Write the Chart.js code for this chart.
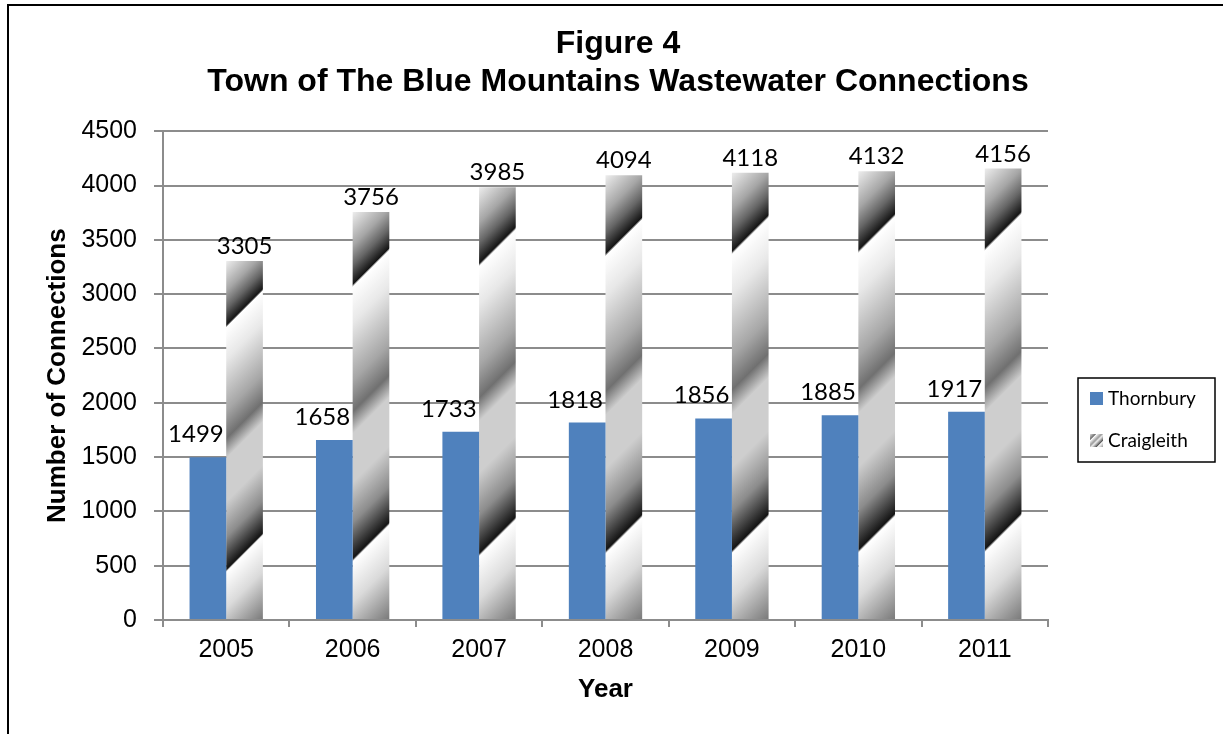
<!DOCTYPE html>
<html>
<head>
<meta charset="utf-8">
<title>Wastewater Connections</title>
<script src="https://cdn.jsdelivr.net/npm/chart.js@4.4.0/dist/chart.umd.min.js"></script>
<style>
  html, body { margin: 0; padding: 0; background: #fff; }
</style>
</head>
<body>
<canvas id="chart" width="1223" height="734"></canvas>
<script>
// data
const years = ['2005', '2006', '2007', '2008', '2009', '2010', '2011'];
const thornbury = [1499, 1658, 1733, 1818, 1856, 1885, 1917];
const craigleith = [3305, 3756, 3985, 4094, 4118, 4132, 4156];
const yMin = 0;
const yMax = 4500;
const yStep = 500;

const BLUE = '#4f81bd';
const GRID = '#8c8c8c';
const AXIS_FONT = 'Liberation Sans';
const LABEL_FONT = 'Lato';

// "chrome" style fill used for the Craigleith bars (diagonal, repeats ~1.5 times per bar)
const chromeStops = [
  [0, '#ededed'], [0.076, '#a6a6a6'], [0.12, '#666666'], [0.163, '#151515'],
  [0.169, '#ffffff'], [0.25, '#e8e8e8'], [0.38, '#a6a6a6'], [0.45, '#707070'],
  [0.50, '#cecece'], [0.61, '#cecece'], [0.70, '#8c8c8c'], [0.782, '#141414'],
  [0.788, '#ffffff'], [0.88, '#dadada'], [1, '#7a7a7a']
];

function chromeFill(ctx, left, top, w, h) {
  const L = w + h;
  const g = ctx.createLinearGradient(left, top, left + L / 2, top + L / 2);
  chromeStops.forEach(([o, c]) => g.addColorStop(o, c));
  return g;
}

// small striped square for the legend
function stripeSwatch(size) {
  const c = document.createElement('canvas');
  c.width = c.height = size;
  const g = c.getContext('2d');
  const grad = g.createLinearGradient(0, 0, size, size);
  [[0, '#e0e0e0'], [0.22, '#6e6e6e'], [0.26, '#ffffff'], [0.45, '#9a9a9a'], [0.55, '#eeeeee'],
   [0.74, '#555555'], [0.78, '#ffffff'], [1, '#9a9a9a']].forEach(([o, col]) => grad.addColorStop(o, col));
  g.fillStyle = grad;
  g.fillRect(0, 0, size, size);
  return c;
}

const pageFrame = {
  id: 'pageFrame',
  beforeDraw(chart) {
    const ctx = chart.ctx;
    ctx.save();
    ctx.fillStyle = '#fff';
    ctx.fillRect(0, 0, chart.width, chart.height);
    ctx.fillStyle = '#000';
    ctx.fillRect(7, 4, chart.width - 7, 2);
    ctx.fillRect(7, 4, 2, chart.height - 4);
    ctx.restore();
  }
};

const chromeBars = {
  id: 'chromeBars',
  beforeDatasetsDraw(chart) {
    chart.getDatasetMeta(1).data.forEach(bar => {
      const {x, y, width, base} = bar.getProps(['x', 'y', 'width', 'base'], true);
      bar.options.backgroundColor = chromeFill(chart.ctx, x - width / 2, y, width, base - y);
    });
  }
};

const valueLabels = {
  id: 'valueLabels',
  afterDatasetsDraw(chart) {
    const ctx = chart.ctx;
    ctx.save();
    ctx.font = '24px ' + LABEL_FONT;
    ctx.fillStyle = '#000';
    ctx.textAlign = 'center';
    ctx.textBaseline = 'alphabetic';
    chart.data.datasets.forEach((ds, di) => {
      const dx = di === 0 ? -12 : 0;
      const dy = di === 0 ? 15 : 7;
      chart.getDatasetMeta(di).data.forEach((bar, i) => {
        ctx.fillText(String(ds.data[i]), bar.x + dx, bar.y - dy);
      });
    });
    ctx.restore();
  }
};

const swatch = stripeSwatch(13);

const boxLegend = {
  id: 'boxLegend',
  afterDraw(chart) {
    const ctx = chart.ctx;
    const x = chart.chartArea.right + 30;
    const y = 378, w = 137, h = 84;
    ctx.save();
    ctx.strokeStyle = '#000';
    ctx.lineWidth = 1.5;
    ctx.strokeRect(x, y, w, h);
    ctx.font = '19px ' + LABEL_FONT;
    ctx.textBaseline = 'middle';
    chart.data.datasets.forEach((ds, i) => {
      const cy = y + 20 + i * 42;
      if (typeof ds.backgroundColor === 'string') {
        ctx.fillStyle = ds.backgroundColor;
        ctx.fillRect(x + 12, cy - 6, 13, 13);
      } else {
        ctx.drawImage(swatch, x + 12, cy - 6);
      }
      ctx.fillStyle = '#000';
      ctx.fillText(ds.label, x + 30, cy + 1);
    });
    ctx.restore();
  }
};

function draw() {
  new Chart(document.getElementById('chart'), {
    type: 'bar',
    data: {
      labels: years,
      datasets: [
        {
          label: 'Thornbury',
          data: thornbury,
          backgroundColor: BLUE,
          borderWidth: 0,
          categoryPercentage: 0.58,
          barPercentage: 1.0
        },
        {
          label: 'Craigleith',
          data: craigleith,
          backgroundColor: () => '#c8c8c8', // replaced by the chrome gradient before drawing
          borderWidth: 0,
          categoryPercentage: 0.58,
          barPercentage: 1.0
        }
      ]
    },
    options: {
      responsive: false,
      animation: false,
      layout: { padding: { left: 13, right: 0, top: 0, bottom: 0 } },
      plugins: {
        legend: { display: false },
        tooltip: { enabled: false },
        title: {
          display: true,
          text: ['Figure 4', 'Town of The Blue Mountains Wastewater Connections'],
          color: '#000',
          font: { family: AXIS_FONT, size: 32, weight: 'bold', lineHeight: 1.16 },
          padding: { top: 26, bottom: 31 }
        }
      },
      scales: {
        x: {
          grid: { drawOnChartArea: false, color: GRID, lineWidth: 2, tickLength: 7 },
          border: { color: GRID, width: 2 },
          ticks: { color: '#000', font: { family: AXIS_FONT, size: 25 }, padding: 8 },
          title: {
            display: true, text: 'Year', color: '#000',
            font: { family: AXIS_FONT, size: 26, weight: 'bold' },
            padding: { top: 0, bottom: 29 }
          },
          afterFit: s => { s.height = 114; }
        },
        y: {
          min: yMin,
          max: yMax,
          ticks: {
            stepSize: yStep, color: '#000', font: { family: AXIS_FONT, size: 25 }, padding: 17,
            callback: v => String(v)
          },
          grid: { color: GRID, lineWidth: 2, tickLength: 9 },
          border: { color: GRID, width: 2 },
          title: {
            display: true, text: 'Number of Connections', color: '#000',
            font: { family: AXIS_FONT, size: 26, weight: 'bold' },
            padding: { top: 29, bottom: 0 }
          },
          afterFit: s => { s.width = 150; }
        },
        // empty right-hand strip that holds the boxed legend
        side: {
          position: 'right',
          min: 0,
          max: 1,
          ticks: { display: false },
          grid: { display: false },
          border: { display: false },
          afterFit: s => { s.width = 175; }
        }
      }
    },
    plugins: [pageFrame, chromeBars, valueLabels, boxLegend]
  });
}

Promise.all([
  document.fonts.load('24px ' + LABEL_FONT),
  document.fonts.load('25px "' + AXIS_FONT + '"'),
  document.fonts.load('bold 26px "' + AXIS_FONT + '"')
]).then(draw, draw);
</script>
</body>
</html>
